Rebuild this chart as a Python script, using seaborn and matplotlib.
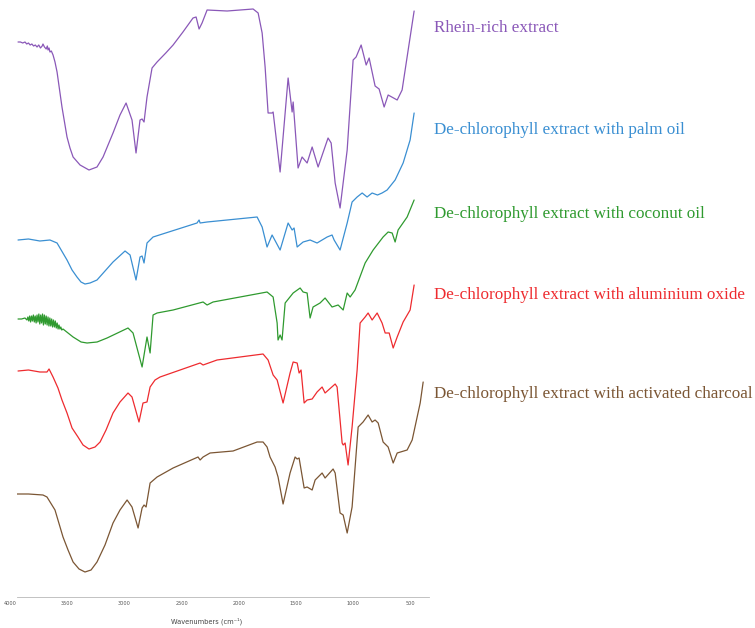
import pandas as pd
import matplotlib
matplotlib.use("Agg")
import matplotlib.pyplot as plt
import matplotlib.transforms as mtransforms
from matplotlib.ticker import MultipleLocator
import seaborn as sns

# FTIR spectra, stacked (arbitrary transmittance units, offset per sample)
samples = [
    "Rhein-rich extract",
    "De-chlorophyll extract with palm oil",
    "De-chlorophyll extract with coconut oil",
    "De-chlorophyll extract with aluminium oxide",
    "De-chlorophyll extract with activated charcoal",
]
colors = ["#8a58b8", "#3a8fd2", "#2f9a2f", "#ee2b2f", "#7b5634"]

rhein_wn = [3991, 3970, 3950, 3930, 3915, 3900, 3885, 3870, 3855, 3840, 3825, 3810,
            3795, 3780, 3773, 3760, 3745, 3735, 3729, 3720, 3712, 3700, 3685, 3668,
            3650, 3607, 3563, 3537, 3510, 3449, 3371, 3301, 3248, 3161, 3100, 3047,
            2995, 2960, 2925, 2907, 2890, 2864, 2820, 2776, 2700, 2636, 2550, 2462,
            2435, 2409, 2383, 2339, 2164, 1937, 1893, 1858, 1832, 1806, 1771, 1762,
            1701, 1631, 1596, 1587, 1544, 1509, 1465, 1421, 1369, 1282, 1255, 1220,
            1177, 1115, 1063, 1037, 993, 949, 923, 871, 836, 792, 757, 678, 635, 582,
            530]
rhein_t = [555, 555, 554, 555, 553, 554, 552, 553, 551, 552, 550, 552,
           549, 551, 553, 550, 548, 551, 547, 549, 545, 546, 542, 535,
           525, 490, 460, 449, 440, 432, 427, 430, 440, 464, 482, 494,
           477, 444, 477, 478, 475, 500, 529, 535, 544, 552, 565, 579,
           580, 568, 574, 587, 586, 588, 584, 564, 530, 484, 484, 485,
           425, 519, 485, 495, 429, 440, 434, 450, 430, 459, 454, 414,
           389, 447, 537, 540, 552, 532, 539, 511, 508, 490, 502, 497, 507, 547,
           586]

palm_wn = [3991, 3900, 3800, 3712, 3650, 3563, 3519, 3476, 3441, 3406, 3362, 3301,
           3161, 3056, 3012, 2960, 2925, 2907, 2890, 2864, 2811, 2427, 2409, 2400,
           2339, 1902, 1858, 1815, 1771, 1701, 1631, 1596, 1579, 1552, 1500, 1439,
           1378, 1290, 1247, 1229, 1177, 1115, 1072, 1028, 984, 941, 897, 850, 810,
           766, 696, 626, 565, 530]
palm_t = [357, 358, 356, 357, 354, 337, 327, 320, 315, 313, 314, 317,
          335, 346, 342, 317, 340, 341, 334, 354, 360, 374, 377, 374,
          375, 380, 370, 350, 362, 347, 374, 367, 369, 350, 355, 357,
          354, 360, 362, 357, 347, 374, 395, 400, 404, 400, 404, 402, 404,
          407, 417, 434, 457, 484]

coconut_wn = [3991, 3960, 3930, 3913, 3905, 3897, 3889, 3881, 3873, 3865, 3857, 3849,
              3841, 3833, 3825, 3817, 3809, 3801, 3793, 3785, 3777, 3769, 3761, 3753,
              3745, 3737, 3729, 3721, 3713, 3705, 3697, 3689, 3681, 3673, 3665, 3657,
              3649, 3641, 3633, 3625, 3617, 3609, 3598, 3510, 3440, 3388, 3300, 3213,
              3030, 2986, 2907, 2864, 2837, 2811, 2776, 2636, 2374, 2339, 2287, 1815,
              1762, 1727, 1719, 1701, 1684, 1657, 1587, 1526, 1500, 1465, 1439, 1413,
              1352, 1308, 1247, 1194, 1150, 1115, 1089, 1046, 958, 888, 801, 757, 722,
              696, 670, 591, 530]
coconut_t = [278, 278, 279, 277, 280, 276, 281, 275, 281, 276, 282, 275,
             281, 274, 282, 275, 283, 273, 282, 274, 283, 272, 282, 273,
             281, 272, 280, 271, 279, 271, 278, 270, 277, 270, 276, 269,
             274, 268, 272, 268, 270, 267, 268, 260, 255, 254, 255, 259,
             269, 264, 230, 260, 244, 282, 284, 287, 295, 292, 295, 305,
             300, 274, 257, 262, 257, 294, 304, 309, 305, 304, 279, 290,
             294, 299, 290, 292, 287, 304, 300, 307, 334, 347, 360, 365, 364,
             355, 367, 380, 397]

alox_wn = [3991, 3900, 3800, 3738, 3720, 3685, 3642, 3607, 3563, 3519, 3467, 3423,
           3371, 3318, 3274, 3222, 3161, 3100, 3030, 2995, 2934, 2899, 2864, 2837,
           2794, 2750, 2400, 2374, 2252, 1850, 1806, 1762, 1727, 1675, 1614, 1587,
           1552, 1535, 1518, 1491, 1465, 1421, 1378, 1334, 1308, 1220, 1203, 1159,
           1150, 1133, 1107, 1072, 1028, 1002, 958, 932, 897, 853, 810, 783, 748,
           713, 678, 626, 565, 530]
alox_t = [226, 227, 225, 225, 228, 220, 209, 197, 184, 169, 160, 152,
          148, 150, 155, 167, 184, 195, 204, 200, 175, 194, 195, 210,
          217, 220, 234, 232, 237, 243, 237, 222, 217, 194, 224, 235,
          234, 224, 227, 194, 197, 198, 205, 210, 204, 213, 210, 154,
          152, 154, 132, 170, 227, 274, 280, 284, 277, 284, 274, 264, 264,
          249, 260, 275, 287, 312]

charcoal_wn = [4000, 3900, 3773, 3738, 3668, 3598, 3554, 3510, 3458, 3406, 3353, 3301,
               3231, 3161, 3100, 3038, 2995, 2942, 2907, 2890, 2872, 2837, 2776, 2636,
               2418, 2400, 2374, 2313, 2112, 1902, 1850, 1815, 1789, 1745, 1719, 1675,
               1614, 1570, 1552, 1535, 1491, 1465, 1421, 1395, 1334, 1308, 1238, 1220,
               1177, 1150, 1115, 1072, 1019, 976, 932, 897, 871, 844, 801, 757, 713,
               678, 591, 547, 477, 451]
charcoal_t = [103, 103, 102, 100, 87, 60, 47, 35, 28, 25, 27, 35,
              52, 74, 87, 97, 90, 69, 89, 92, 90, 114, 120, 129,
              140, 137, 140, 144, 146, 155, 155, 150, 140, 130, 120, 93,
              124, 140, 138, 139, 109, 110, 107, 117, 124, 119, 128, 124,
              84, 82, 64, 90, 170, 175, 182, 175, 177, 174, 155, 150, 134,
              144, 147, 157, 194, 215]

label_baselines = [32, 134, 218, 299, 398]  # pixel rows of the right-hand labels

wn_lists = [rhein_wn, palm_wn, coconut_wn, alox_wn, charcoal_wn]
t_lists = [rhein_t, palm_t, coconut_t, alox_t, charcoal_t]
frames = []
for name, wn, t in zip(samples, wn_lists, t_lists):
    frames.append(pd.DataFrame({"wavenumber": wn, "value": t, "sample": name}))
df = pd.concat(frames, ignore_index=True)

sns.set_style("white")
plt.rcParams["font.family"] = ["DejaVu Sans"]

W, H = 755, 628
fig = plt.figure(figsize=(W / 100, H / 100), dpi=100)
ax = fig.add_axes([17 / W, 31 / H, 412 / W, 597 / H])

sns.lineplot(data=df, x="wavenumber", y="value", hue="sample",
             palette=dict(zip(samples, colors)), estimator=None, sort=False,
             legend=False, linewidth=0.9, ax=ax)

ax.set_xlim(4000, 400)
ax.set_ylim(0, 597)
for side in ["top", "right", "left"]:
    ax.spines[side].set_visible(False)
ax.spines["bottom"].set_color("#b8b8b8")
ax.spines["bottom"].set_linewidth(0.6)
ax.set_yticks([])
ax.set_ylabel("")

ax.xaxis.set_major_locator(MultipleLocator(500))
ax.xaxis.set_minor_locator(MultipleLocator(100))
ax.tick_params(axis="x", which="major", direction="inout", length=3, width=0.5,
               color="#a0a0a0", labelsize=3.6, labelcolor="#555555", pad=1.5)
ax.tick_params(axis="x", which="minor", direction="inout", length=1.6, width=0.4,
               color="#c0c0c0")
shift = mtransforms.ScaledTranslation(-7 / 100, 0, fig.dpi_scale_trans)
for lab in ax.get_xticklabels():
    lab.set_transform(lab.get_transform() + shift)

ax.set_xlabel("Wavenumbers (cm\u207b\u00b9)", fontsize=4.8, color="#444444")
ax.xaxis.set_label_coords((207 - 17) / 412, (597 - 621) / 597)
ax.xaxis.label.set_va("center")

for name, col, base in zip(samples, colors, label_baselines):
    fig.text(434 / W, 1 - base / H, name, color=col, fontsize=12.3,
             family=["Liberation Serif", "DejaVu Serif"], va="baseline", ha="left")

fig.savefig("out.png", dpi=100, facecolor="white")
plt.close(fig)
